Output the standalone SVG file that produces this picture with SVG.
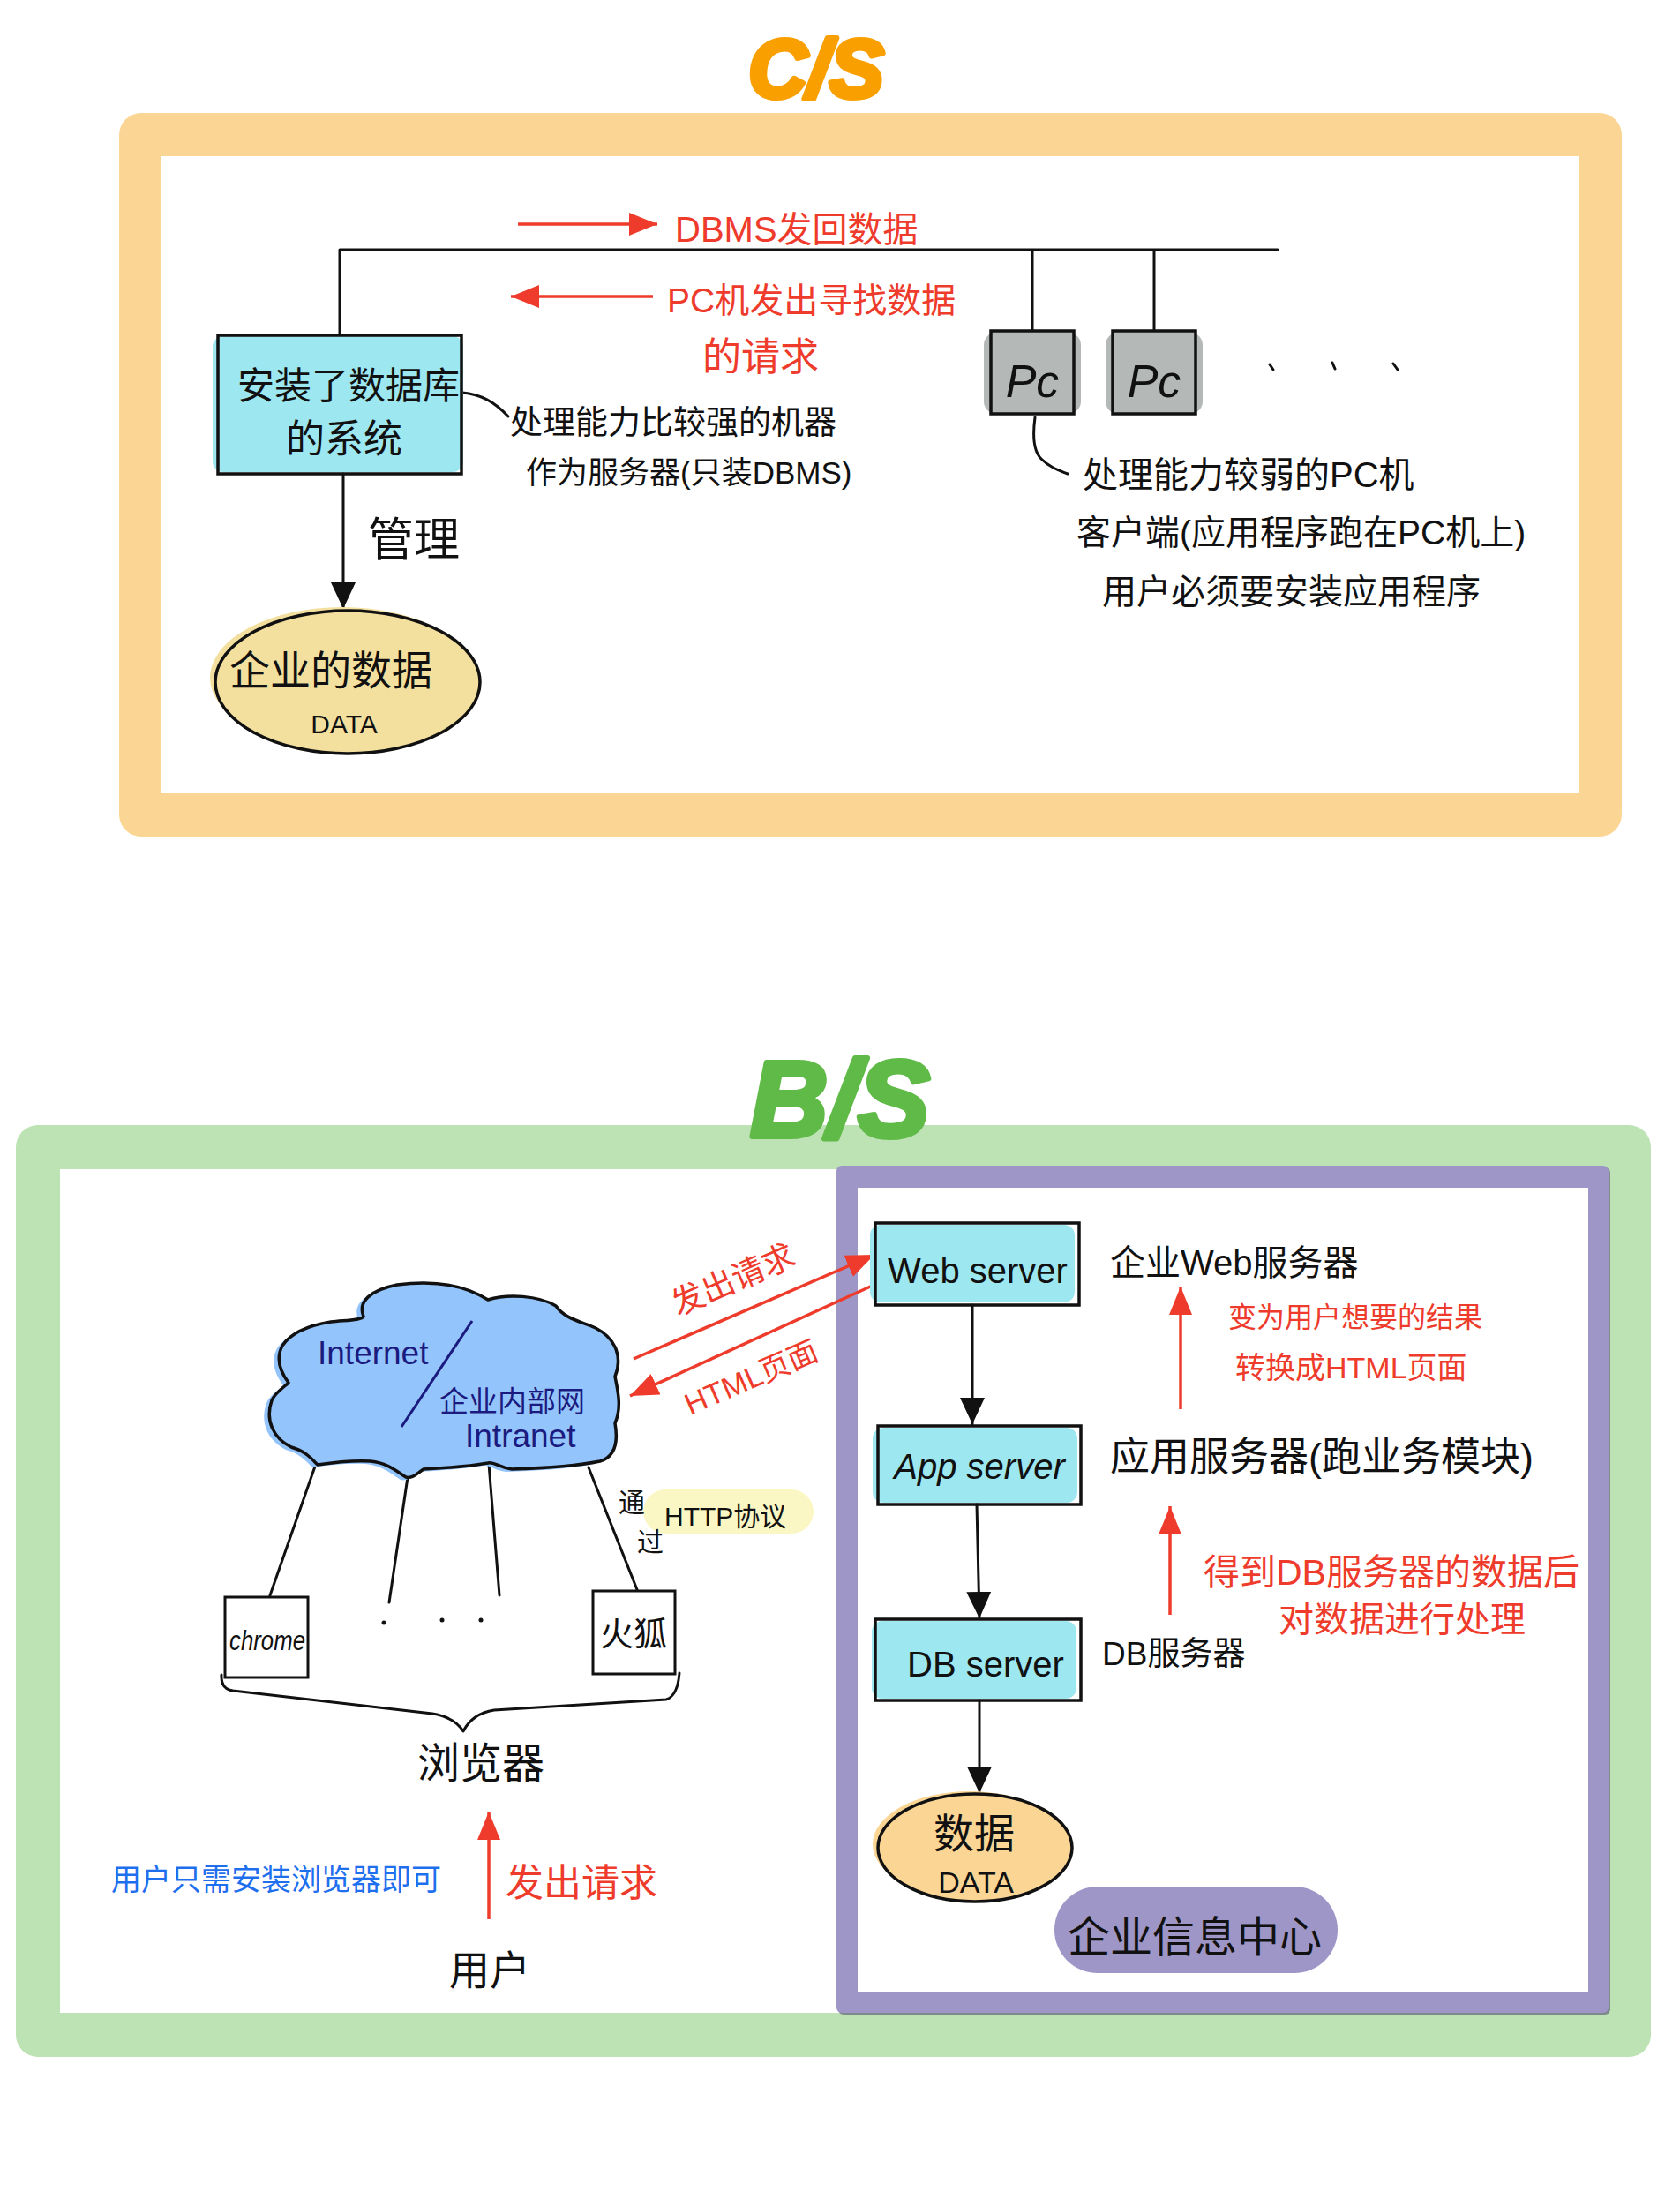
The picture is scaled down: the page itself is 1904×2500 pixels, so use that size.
<svg xmlns="http://www.w3.org/2000/svg" width="1904" height="2500" viewBox="0 0 1904 2500">
<defs>
<style>
text{font-family:'Liberation Sans','Noto Sans CJK SC',sans-serif;}
.k{fill:#111}
.r{fill:#EE3B2B}
.b{fill:#1E6FEE}
.nv{fill:#1B1A7E}
.ln{stroke:#111;stroke-width:3;fill:none;stroke-linecap:round;stroke-linejoin:round}
.rl{stroke:#EE3B2B;stroke-width:3.5;fill:none}
.box{fill:#9DE7F0}
.bs{fill:none;stroke:#111;stroke-width:3.5}
</style>
<marker id="ak" markerUnits="userSpaceOnUse" markerWidth="30" markerHeight="30" refX="30" refY="15" orient="auto"><path d="M0,1 L30,15 L0,29 z" fill="#111"/></marker>
<marker id="ar" markerUnits="userSpaceOnUse" markerWidth="32" markerHeight="28" refX="32" refY="14" orient="auto"><path d="M0,1 L32,14 L0,27 z" fill="#EE3B2B"/></marker>
</defs>
<rect width="1904" height="2500" fill="#fff"/>

<!-- C/S frame -->
<g id="cs-frame">
<rect x="135" y="128" width="1703" height="820" rx="25" fill="#FBD594"/>
<rect x="183" y="177" width="1606" height="722" fill="#fff"/>
<text x="925" y="110" text-anchor="middle" font-size="92" font-weight="bold" font-style="italic" fill="#F9A000" stroke="#F9A000" stroke-width="6" stroke-linejoin="round">C/S</text>
</g>

<g id="connectors-cs">
<path class="ln" d="M385 283 H1448 M385 283 V378 M1170 283 V375 M1308 283 V375"/>
<path class="ln" d="M389 537 V690" marker-end="url(#ak)"/>
<path class="rl" d="M587 254 H745" marker-end="url(#ar)"/>
<path class="rl" d="M740 336 H579" marker-end="url(#ar)"/>
<path class="ln" d="M524 445 C545 447 560 455 576 472"/>
<path class="ln" d="M1173 473 C1170 495 1172 512 1180 520 C1190 530 1200 533 1210 537"/>
</g>

<g id="db-system">
<rect x="241" y="381" width="284" height="154" rx="12" class="box"/>
<rect x="247" y="380" width="276" height="157" class="bs"/>
<text x="395" y="452" text-anchor="middle" font-size="42" class="k">安装了数据库</text>
<text x="390" y="513" text-anchor="middle" font-size="44" class="k">的系统</text>
</g>

<g id="data-cs">
<ellipse cx="388" cy="768" rx="150" ry="80" fill="#F4E09E"/>
<ellipse cx="394" cy="773" rx="150" ry="81" fill="#F4E09E" stroke="#111" stroke-width="3.5"/>
<text x="375" y="776" text-anchor="middle" font-size="46" class="k">企业的数据</text>
<text x="390" y="831" text-anchor="middle" font-size="30" class="k">DATA</text>
</g>

<g id="labels-cs">
<text x="469" y="630" text-anchor="middle" font-size="52" class="k">管理</text>
<text x="765" y="274" font-size="40" class="r">DBMS发回数据</text>
<text x="756" y="354" font-size="39" class="r">PC机发出寻找数据</text>
<text x="862" y="420" text-anchor="middle" font-size="44" class="r">的请求</text>
<text x="578" y="492" font-size="37" class="k">处理能力比较强的机器</text>
<text x="596" y="548" font-size="35" class="k">作为服务器(只装DBMS)</text>
<text x="1227" y="552" font-size="40" class="k">处理能力较弱的PC机</text>
<text x="1220" y="617" font-size="39" class="k">客户端(应用程序跑在PC机上)</text>
<text x="1249" y="684" font-size="39" class="k">用户必须要安装应用程序</text>
</g>

<g id="pc1">
<rect x="1115" y="377" width="110" height="92" rx="14" fill="#B4B9B8"/>
<rect x="1123" y="375" width="94" height="94" fill="#B4B9B8" stroke="#111" stroke-width="3.5"/>
<text x="1170" y="450" text-anchor="middle" font-size="52" font-style="italic" class="k">Pc</text>
</g>
<g id="pc2">
<rect x="1253" y="377" width="110" height="92" rx="14" fill="#B4B9B8"/>
<rect x="1261" y="375" width="94" height="94" fill="#B4B9B8" stroke="#111" stroke-width="3.5"/>
<text x="1308" y="450" text-anchor="middle" font-size="52" font-style="italic" class="k">Pc</text>
</g>
<g id="pc-dots">
<path class="ln" d="M1439 413 L1443 419 M1510 411 L1513 418 M1579 412 L1584 419"/>
</g>

<!-- B/S frame -->
<g id="bs-frame">
<rect x="18" y="1275" width="1853" height="1056" rx="25" fill="#BDE2B3"/>
<rect x="68" y="1325" width="1753" height="956" fill="#fff"/>
<text x="952" y="1288" text-anchor="middle" font-size="122" font-weight="bold" font-style="italic" fill="#5FBA47" stroke="#5FBA47" stroke-width="6" stroke-linejoin="round">B/S</text>
</g>

<g id="enterprise-center">
<rect x="950" y="1323" width="875" height="960" rx="6" fill="#7F8A8A"/>
<rect x="948" y="1321" width="875" height="960" rx="6" fill="#9D96C6"/>
<rect x="972" y="1346" width="828" height="911" fill="#fff"/>
<rect x="1195" y="2138" width="321" height="98" rx="49" fill="#9D96C6"/>
<text x="1354" y="2212" text-anchor="middle" font-size="48" class="k">企业信息中心</text>
</g>

<g id="connectors-bs">
<path class="ln" d="M358 1659 L306 1808 M462 1674 L441 1816 M554 1659 L566 1808 M667 1663 L723 1804"/>
<path class="ln" d="M251 1898 Q250 1914 264 1916 L490 1942 Q515 1946 525 1962 Q535 1942 560 1938 L755 1926 Q768 1922 770 1896"/>
<path class="rl" d="M718 1540 L991 1422" marker-end="url(#ar)"/>
<path class="rl" d="M993 1455 L714 1582" marker-end="url(#ar)"/>
<path class="rl" d="M554 2175 V2053" marker-end="url(#ar)"/>
<path class="ln" d="M1102 1479 V1614" marker-end="url(#ak)"/>
<path class="ln" d="M1107 1705 L1110 1834" marker-end="url(#ak)"/>
<path class="ln" d="M1110 1927 V2032" marker-end="url(#ak)"/>
<path class="rl" d="M1338 1597 V1458" marker-end="url(#ar)"/>
<path class="rl" d="M1326 1830 V1707" marker-end="url(#ar)"/>
</g>

<g id="cloud">
<path transform="translate(-6,3)" fill="#94C4FC" d="M412 1492 C405 1475 420 1462 450 1456 C480 1452 520 1452 553 1473 C575 1466 610 1468 630 1480 C640 1495 660 1498 675 1505 C700 1518 705 1540 697 1560 C700 1575 705 1595 697 1613 C700 1630 700 1650 680 1656 C650 1662 610 1664 580 1665 C565 1663 560 1656 553 1658 C530 1662 500 1664 480 1665 C472 1670 468 1676 460 1674 C450 1668 440 1658 420 1656 C400 1655 380 1657 360 1660 C352 1652 345 1644 330 1640 C310 1630 300 1610 308 1587 C312 1578 322 1572 327 1567 C318 1555 312 1540 320 1525 C330 1510 350 1502 375 1498 C395 1496 410 1496 412 1492 Z"/>
<path fill="#94C4FC" stroke="#111" stroke-width="3.5" stroke-linejoin="round" d="M412 1492 C405 1475 420 1462 450 1456 C480 1452 520 1452 553 1473 C575 1466 610 1468 630 1480 C640 1495 660 1498 675 1505 C700 1518 705 1540 697 1560 C700 1575 705 1595 697 1613 C700 1630 700 1650 680 1656 C650 1662 610 1664 580 1665 C565 1663 560 1656 553 1658 C530 1662 500 1664 480 1665 C472 1670 468 1676 460 1674 C450 1668 440 1658 420 1656 C400 1655 380 1657 360 1660 C352 1652 345 1644 330 1640 C310 1630 300 1610 308 1587 C312 1578 322 1572 327 1567 C318 1555 312 1540 320 1525 C330 1510 350 1502 375 1498 C395 1496 410 1496 412 1492 Z"/>
<path d="M535 1497 L455 1617" stroke="#1B1A7E" stroke-width="3" fill="none"/>
<text x="360" y="1546" font-size="37" class="nv">Internet</text>
<text x="498" y="1600" font-size="33" class="nv">企业内部网</text>
<text x="527" y="1640" font-size="37" class="nv">Intranet</text>
</g>

<g id="chrome">
<rect x="255" y="1810" width="94" height="91" fill="#fff" stroke="#111" stroke-width="3"/>
<text x="260" y="1870" font-size="31" font-style="italic" textLength="86" lengthAdjust="spacingAndGlyphs" class="k">chrome</text>
</g>
<g id="firefox">
<rect x="672" y="1803" width="93" height="94" fill="#fff" stroke="#111" stroke-width="3"/>
<text x="718" y="1865" text-anchor="middle" font-size="38" class="k">火狐</text>
</g>
<g id="browser-dots">
<circle cx="435" cy="1839" r="2.5" fill="#111"/>
<circle cx="501" cy="1836" r="2.5" fill="#111"/>
<circle cx="545" cy="1836" r="2.5" fill="#111"/>
</g>

<g id="labels-bs">
<rect x="729" y="1688" width="193" height="50" rx="25" fill="#FBF7C4"/>
<text x="701" y="1713" font-size="30" class="k">通</text>
<text x="722" y="1758" font-size="30" class="k">过</text>
<text x="753" y="1729" font-size="30" class="k">HTTP协议</text>
<text x="545" y="2015" text-anchor="middle" font-size="48" class="k">浏览器</text>
<text x="573" y="2149" font-size="43" class="r">发出请求</text>
<text x="126" y="2142" font-size="34" class="b">用户只需安装浏览器即可</text>
<text x="555" y="2249" text-anchor="middle" font-size="46" class="k">用户</text>
<text transform="translate(836,1462) rotate(-23.4)" text-anchor="middle" font-size="37" class="r">发出请求</text>
<text transform="translate(856,1572) rotate(-23.4)" text-anchor="middle" font-size="34" class="r">HTML页面</text>
<text x="1258" y="1445" font-size="40" class="k">企业Web服务器</text>
<text x="1392" y="1504" font-size="32" class="r">变为用户想要的结果</text>
<text x="1400" y="1562" font-size="34" class="r">转换成HTML页面</text>
<text x="1258" y="1667" font-size="45" class="k">应用服务器(跑业务模块)</text>
<text x="1364" y="1796" font-size="41" class="r">得到DB服务器的数据后</text>
<text x="1449" y="1849" font-size="40" class="r">对数据进行处理</text>
<text x="1249" y="1887" font-size="37" class="k">DB服务器</text>
</g>

<g id="web-server">
<rect x="986" y="1388" width="232" height="88" rx="12" class="box"/>
<rect x="992" y="1386" width="231" height="93" class="bs"/>
<text x="1108" y="1454" text-anchor="middle" font-size="40" class="k">Web server</text>
</g>
<g id="app-server">
<rect x="989" y="1618" width="232" height="85" rx="12" class="box"/>
<rect x="995" y="1616" width="230" height="89" class="bs"/>
<text x="1110" y="1676" text-anchor="middle" font-size="40" font-style="italic" class="k">App server</text>
</g>
<g id="db-server">
<rect x="988" y="1837" width="232" height="88" rx="12" class="box"/>
<rect x="992" y="1835" width="233" height="92" class="bs"/>
<text x="1117" y="1900" text-anchor="middle" font-size="40" class="k">DB server</text>
</g>
<g id="data-bs">
<ellipse cx="1099" cy="2090" rx="110" ry="60" fill="#FBD594"/>
<ellipse cx="1105" cy="2094" rx="110" ry="61" fill="#FBD594" stroke="#111" stroke-width="3.5"/>
<text x="1104" y="2094" text-anchor="middle" font-size="46" class="k">数据</text>
<text x="1106" y="2145" text-anchor="middle" font-size="34" class="k">DATA</text>
</g>
</svg>
